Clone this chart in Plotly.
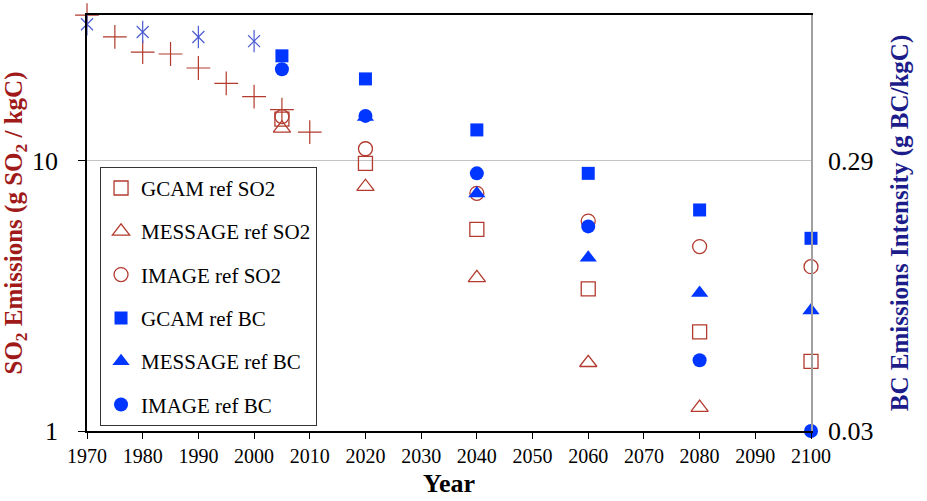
import math
import plotly.graph_objects as go

# Historical emission intensities
hist_so2_years = [1970, 1975, 1980, 1985, 1990, 1995, 2000, 2005, 2010]
hist_so2 = [34.7, 28.8, 25.3, 24.9, 22.1, 19.4, 17.3, 15.5, 12.8]          # g SO2 / kgC
hist_bc_years = [1970, 1980, 1990, 2000]
hist_bc = [0.931, 0.871, 0.835, 0.806]                                      # g BC / kgC

# Reference-scenario projections
proj_years = [2005, 2020, 2040, 2060, 2080, 2100]
gcam_so2 = [14.3, 9.80, 5.58, 3.36, 2.33, 1.81]
message_so2_years = [2005, 2020, 2040, 2060, 2080]
message_so2 = [13.2, 8.03, 3.69, 1.79, 1.22]
image_so2 = [14.6, 11.1, 7.59, 5.99, 4.82, 4.06]

gcam_bc = [0.711, 0.584, 0.378, 0.261, 0.191, 0.150]
message_bc_years = [2020, 2040, 2060, 2080, 2100]
message_bc = [0.422, 0.220, 0.127, 0.094, 0.081]
image_bc = [0.634, 0.426, 0.261, 0.166, 0.053, 0.029]

# Right axis is the left axis rescaled: 10 g SO2/kgC <-> 0.29 g BC/kgC
BC_PER_SO2 = 0.029
LOG_TOP = 1.5407

RED = "#b23a2e"
BLUE = "#0036ff"
HIST_BLUE = "#4b5bd3"
SERIF = "Liberation Serif, Times New Roman, serif"

fig = go.Figure()

fig.add_trace(go.Scatter(
    x=hist_so2_years, y=hist_so2, mode="markers", showlegend=False, cliponaxis=False,
    marker=dict(symbol="cross-thin-open", size=17, color=RED,
                line=dict(color=RED, width=1.2)),
))
for sym, sz in (("x-thin-open", 12), ("line-ns-open", 16)):
    fig.add_trace(go.Scatter(
        x=hist_bc_years, y=hist_bc, yaxis="y2", mode="markers", showlegend=False,
        cliponaxis=False,
        marker=dict(symbol=sym, size=sz, color=HIST_BLUE,
                    line=dict(color=HIST_BLUE, width=1.2)),
    ))

series = [
    ("GCAM ref SO2", proj_years, gcam_so2, "y", "square-open", 14, RED),
    ("MESSAGE ref SO2", message_so2_years, message_so2, "y", "triangle-up-open", 15, RED),
    ("IMAGE ref SO2", proj_years, image_so2, "y", "circle-open", 14, RED),
    ("GCAM ref BC", proj_years, gcam_bc, "y2", "square", 13, BLUE),
    ("MESSAGE ref BC", message_bc_years, message_bc, "y2", "triangle-up", 15, BLUE),
    ("IMAGE ref BC", proj_years, image_bc, "y2", "circle", 14, BLUE),
]
for i, (name, xs, ys, axis, sym, sz, col) in enumerate(series):
    if sym.endswith("-open"):
        marker = dict(symbol=sym, size=sz, color=col, line=dict(color=col, width=1.3))
    else:
        marker = dict(symbol=sym, size=sz, color=col, line=dict(width=0))
    fig.add_trace(go.Scatter(
        x=xs, y=ys, yaxis=axis, mode="markers", name=name, legendgroup=f"g{i}",
        cliponaxis=False, marker=marker,
    ))

bc_lo = math.log10(BC_PER_SO2)

fig.update_layout(
    width=927, height=501,
    margin=dict(l=87, r=116, t=15, b=70, autoexpand=False),
    paper_bgcolor="white", plot_bgcolor="white",
    font=dict(family=SERIF, color="black", size=20),
    showlegend=True,
    legend=dict(
        x=0.018, y=0.635, xanchor="left", yanchor="top",
        bgcolor="white", bordercolor="#333333", borderwidth=1,
        font=dict(family=SERIF, size=21, color="black"),
        tracegroupgap=13, traceorder="grouped",
        itemwidth=30,
    ),
    xaxis=dict(
        range=[1970, 2100], dtick=10, tick0=1970, automargin=False,
        showline=True, linecolor="black", linewidth=1.5, mirror=True,
        ticks="outside", ticklen=6, tickcolor="black",
        showgrid=False, zeroline=False,
        tickfont=dict(family=SERIF, size=20),
        title=dict(text="<b>Year</b>", font=dict(family=SERIF, size=26), standoff=8),
    ),
    yaxis=dict(
        type="log", range=[0, LOG_TOP], automargin=False,
        tickvals=[1, 10], ticktext=["1", "10"],
        showline=True, linecolor="black", linewidth=1.5,
        ticks="outside", ticklen=7, tickcolor="black",
        ticklabelstandoff=15,
        showgrid=True, gridcolor="#c4c4c4", gridwidth=1.2,
        zeroline=False,
        tickfont=dict(family=SERIF, size=26),
        title=dict(text="<b>SO<sub>2</sub> Emissions (g SO<sub>2</sub> / kgC)</b>",
                   font=dict(family=SERIF, size=25, color="#a01a1a"), standoff=6),
    ),
    yaxis2=dict(
        type="log", overlaying="y", side="right", automargin=False,
        range=[bc_lo, bc_lo + LOG_TOP],
        tickvals=[0.029, 0.29], ticktext=["0.03", "0.29"],
        showline=True, linecolor="#a0a0a0", linewidth=1.5,
        ticks="", ticklabelstandoff=10,
        showgrid=False, zeroline=False,
        tickfont=dict(family=SERIF, size=26),
        title=dict(text="<b>BC Emissions Intensity (g BC/kgC)</b>",
                   font=dict(family=SERIF, size=25, color="#1c1c8a"), standoff=18),
    ),
)

fig.write_html("out.html")
